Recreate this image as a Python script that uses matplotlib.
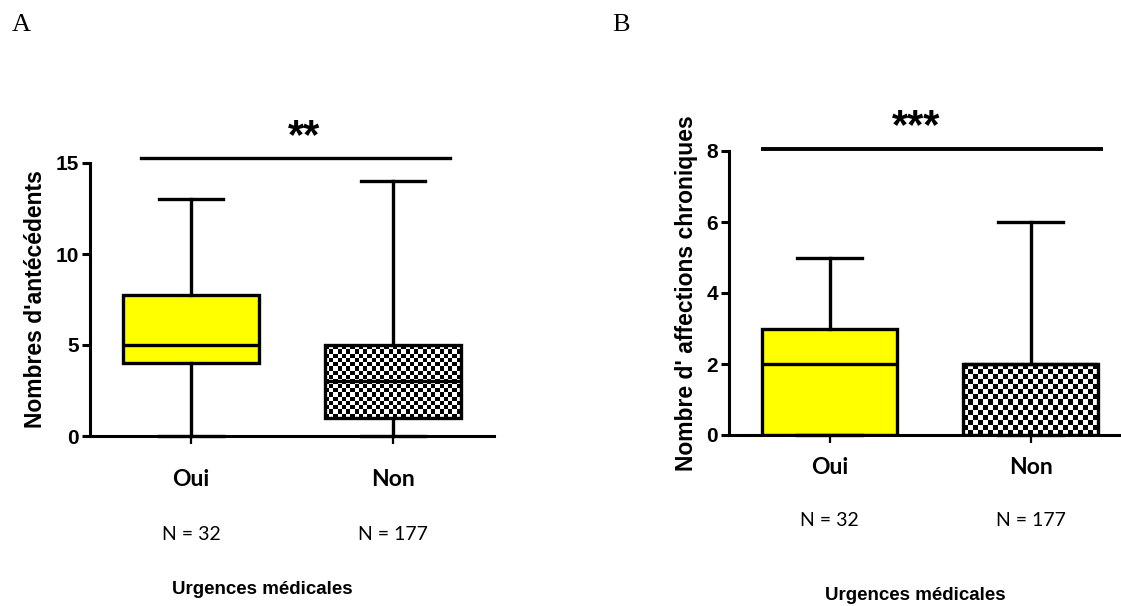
import matplotlib.pyplot as plt
import numpy as np

# Data
groups = ["Oui", "Non"]
counts = ["N = 32", "N = 177"]

# Panel A: Nombres d'antécédents (min, q1, median, q3, max)
a_min = [0, 0]
a_q1 = [4, 1]
a_med = [5, 3]
a_q3 = [7.75, 5]
a_max = [13, 14]

# Panel B: Nombre d'affections chroniques
b_min = [0, 0]
b_q1 = [0, 0]
b_med = [2, 2]
b_q3 = [3, 2]
b_max = [5, 6]

W, H = 1121, 606
fig = plt.figure(figsize=(W / 100, H / 100), dpi=100)
bold = dict(family=["Liberation Sans", "DejaVu Sans"], weight="bold")


def checker(ax, patch, cell):
    # checkered fill clipped to the box
    ext = patch.get_path().get_extents()
    p0 = ax.transData.transform((ext.x0, ext.y0))
    p1 = ax.transData.transform((ext.x1, ext.y1))
    nx = max(1, int(round(abs(p1[0] - p0[0]) / cell)))
    ny = max(1, int(round(abs(p1[1] - p0[1]) / cell)))
    yy, xx = np.indices((ny, nx))
    img = (xx + yy) % 2
    im = ax.imshow(img, cmap="gray", extent=(ext.x0, ext.x1, ext.y0, ext.y1),
                   aspect="auto", interpolation="nearest", zorder=2.5)
    im.set_clip_path(patch)


def panel(rect, mins, q1s, meds, q3s, maxs, ylim, yticks, ylabel, cell, xlim):
    ax = fig.add_axes(rect)
    stats = []
    for i in range(2):
        stats.append(dict(whislo=mins[i], q1=q1s[i], med=meds[i], q3=q3s[i],
                          whishi=maxs[i], fliers=[], label=groups[i]))
    bp = ax.bxp(stats, positions=[1, 2], widths=0.67, capwidths=0.32,
                patch_artist=True, showfliers=False,
                boxprops=dict(linewidth=2.4, edgecolor="black"),
                whiskerprops=dict(linewidth=2.4, color="black"),
                capprops=dict(linewidth=2.4, color="black"),
                medianprops=dict(linewidth=2.4, color="black"))
    bp["boxes"][0].set_facecolor("#ffff00")
    bp["boxes"][1].set_facecolor("white")
    for art in bp["whiskers"] + bp["caps"]:
        art.set_clip_on(False)
    ax.set_xlim(*xlim)
    ax.set_ylim(*ylim)
    checker(ax, bp["boxes"][1], cell)
    bp["boxes"][1].set_zorder(2.6)
    bp["boxes"][1].set_facecolor("none")
    bp["medians"][1].set_zorder(2.7)
    ax.set_yticks(yticks)
    ax.set_xticks([1, 2])
    ax.set_xticklabels([])
    for s in ["top", "right"]:
        ax.spines[s].set_visible(False)
    for s in ["left", "bottom"]:
        ax.spines[s].set_linewidth(2.2)
    ax.tick_params(axis="y", width=2.2, length=6, labelsize=15, pad=2)
    ax.tick_params(axis="x", width=1.6, length=6)
    for t in ax.get_yticklabels():
        t.set_fontfamily(["Liberation Sans", "DejaVu Sans"])
        t.set_fontweight("bold")
    ax.set_ylabel(ylabel, fontsize=16.5, labelpad=6, **bold)
    return ax


axA = panel([90 / W, 1 - 436 / H, 404 / W, 273 / H], a_min, a_q1, a_med, a_q3, a_max,
            (0, 15), [0, 5, 10, 15], "Nombres d'antécédents", 4.2, (0.5, 2.5))
axB = panel([729 / W, 1 - 435 / H, 392 / W, 284 / H], b_min, b_q1, b_med, b_q3, b_max,
            (0, 8), [0, 2, 4, 6, 8], "Nombre d' affections chroniques", 5.0, (0.5, 2.45))

# significance bars
axA.plot([0.75, 2.28], [15.25, 15.25], color="black", lw=2.4, clip_on=False)
axA.text(1.56, 15.35, "**", ha="center", va="bottom", fontsize=30, **bold)
axB.plot([0.67, 2.35], [8.05, 8.05], color="black", lw=2.8, clip_on=False)
axB.text(1.43, 8.1, "***", ha="center", va="bottom", fontsize=30, **bold)

# group labels, counts and axis titles
for ax, ylab, yn in [(axA, 480, 535), (axB, 468, 520)]:
    for i, (g, n) in enumerate(zip(groups, counts)):
        x = fig.transFigure.inverted().transform(ax.transData.transform((i + 1, 0)))[0]
        fig.text(x, 1 - ylab / H, g, ha="center", va="center", fontsize=16.5,
                 family="Lato", weight="bold")
        fig.text(x, 1 - yn / H, n, ha="center", va="center", fontsize=14, family="Lato")

fig.text(262 / W, 1 - 590 / H, "Urgences médicales", ha="center", va="center", fontsize=13.5, **bold)
fig.text(915 / W, 1 - 595 / H, "Urgences médicales", ha="center", va="center", fontsize=13.5, **bold)

fig.text(12 / W, 1 - 25 / H, "A", ha="left", va="center", fontsize=19, family="Liberation Serif")
fig.text(612 / W, 1 - 25 / H, "B", ha="left", va="center", fontsize=19, family="Liberation Serif")

fig.savefig("out.png", dpi=100)
